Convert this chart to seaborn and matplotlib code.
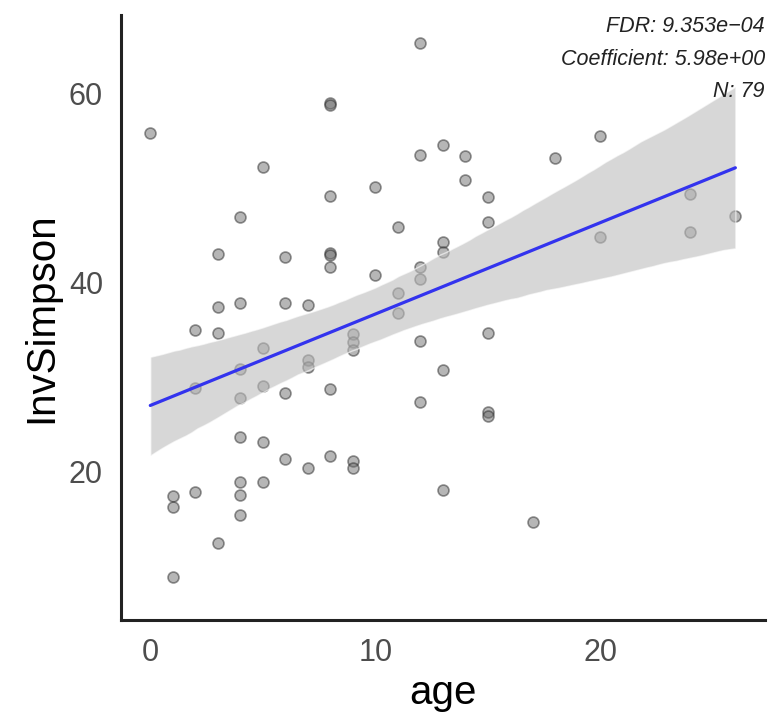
import numpy as np
import pandas as pd
import matplotlib
matplotlib.use("Agg")
import matplotlib.pyplot as plt
import seaborn as sns

# Data
age = [0,
       1, 1, 1,
       2, 2, 2,
       3, 3, 3, 3,
       4, 4, 4, 4, 4, 4, 4, 4,
       5, 5, 5, 5, 5,
       6, 6, 6, 6,
       7, 7, 7, 7,
       8, 8, 8, 8, 8, 8, 8, 8,
       9, 9, 9, 9, 9,
       10, 10,
       11, 11, 11,
       12, 12, 12, 12, 12, 12,
       13, 13, 13, 13, 13,
       14, 14,
       15, 15, 15, 15, 15,
       17, 18, 20, 20, 24, 24, 26]
inv_simpson = [55.8,
               17.4, 16.2, 8.9,
               35.0, 28.8, 17.8,
               43.0, 37.4, 34.7, 12.4,
               46.9, 37.8, 30.8, 27.8, 23.7, 18.9, 17.5, 15.4,
               52.2, 33.1, 29.0, 23.1, 18.9,
               42.7, 37.8, 28.3, 21.3,
               37.6, 31.8, 31.1, 20.4,
               59.0, 58.8, 49.1, 43.1, 42.9, 41.6, 28.7, 21.6,
               34.5, 33.7, 32.9, 21.1, 20.4,
               50.1, 40.8,
               45.9, 38.9, 36.8,
               65.3, 53.5, 41.6, 40.4, 33.8, 27.4,
               54.5, 44.3, 43.2, 30.7, 18.0,
               53.4, 50.8,
               49.0, 46.4, 34.6, 26.3, 25.9,
               14.7, 53.2, 55.5, 44.8, 49.4, 45.3, 47.0]
x_ticks = [0, 10, 20]
y_ticks = [20, 40, 60]
annot_lines = ["FDR: 9.353e\u221204", "Coefficient: 5.98e+00", "N: 79"]

df = pd.DataFrame({"age": age, "InvSimpson": inv_simpson})

sns.set_style("white")
plt.rcParams['font.family'] = ['Liberation Sans', 'DejaVu Sans']

fig = plt.figure(figsize=(7.68, 7.24), dpi=100)
ax = fig.add_axes([0.1576, 0.1436, 0.838, 0.836])

sns.regplot(data=df, x="age", y="InvSimpson", ax=ax, ci=95, n_boot=2000, seed=3,
            scatter_kws=dict(s=62, facecolor="#6E6E6E", edgecolor="#2A2A2A",
                             linewidths=1.2, alpha=0.5, zorder=1),
            line_kws=dict(color="#3333EE", lw=2.3, zorder=3))
# CI band colour
for coll in ax.collections[1:]:
    coll.set_facecolor("#BDBDBD")
    coll.set_alpha(0.6)
    coll.set_zorder(2)

ax.set_xlim(-1.3, 27.3)
ax.set_ylim(4.3, 68.3)
ax.set_xticks(x_ticks)
ax.set_yticks(y_ticks)
ax.tick_params(axis="both", direction="out", length=8, width=1.5, color="#333333",
               labelsize=22, labelcolor="#4D4D4D", pad=5)
for side in ["top", "right"]:
    ax.spines[side].set_visible(False)
for side in ["left", "bottom"]:
    ax.spines[side].set_linewidth(2.2)
    ax.spines[side].set_color("#222222")
ax.set_xlabel("age", fontsize=29, color="black", labelpad=4)
ax.set_ylabel("InvSimpson", fontsize=29, color="black", labelpad=6)
ax.grid(False)

for i, t in enumerate(annot_lines):
    fig.text(0.996, 0.963 - i * 0.0445, t, ha="right", va="center",
             fontsize=15.5, style="italic", color="#222222")

fig.savefig("out.png", dpi=100)
